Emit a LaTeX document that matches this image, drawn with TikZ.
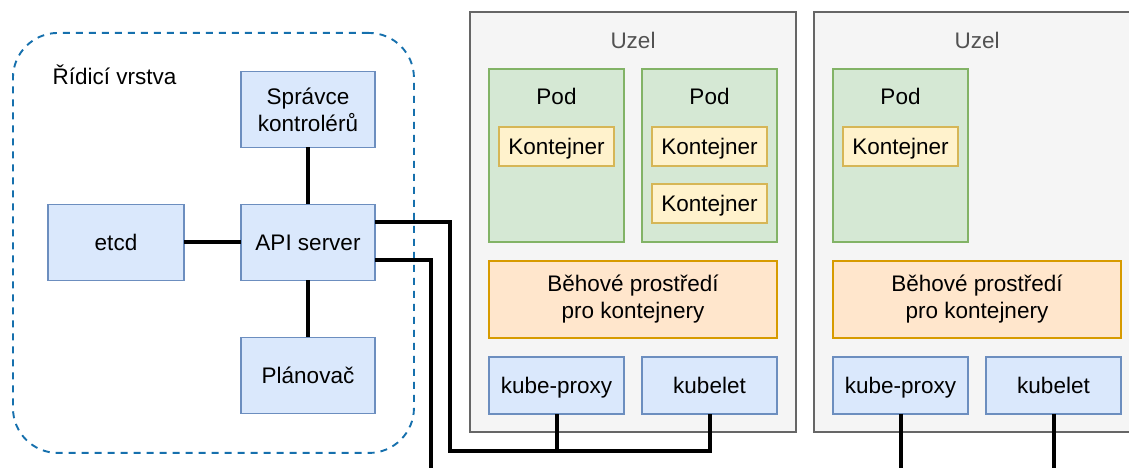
\documentclass[tikz,border=0pt]{standalone}
\usepackage{fontspec}
\setmainfont{Liberation Sans}
\usepackage{tikz}
\usetikzlibrary{positioning}
\usepackage{xcolor}
\definecolor{cpfill}{HTML}{DAE8FC}
\definecolor{cpline}{HTML}{6C8EBF}
\definecolor{podfill}{HTML}{D5E8D4}
\definecolor{podline}{HTML}{82B366}
\definecolor{ctrfill}{HTML}{FFF2CC}
\definecolor{ctrline}{HTML}{D6B656}
\definecolor{rtfill}{HTML}{FFE6CC}
\definecolor{rtline}{HTML}{D79B00}
\definecolor{uzelfill}{HTML}{F5F5F5}
\definecolor{uzelline}{HTML}{666666}
\definecolor{planeline}{HTML}{1670AD}

\begin{document}
\begin{tikzpicture}[
    x=1pt, y=1pt,
    node distance=57pt,
    font=\fontsize{22.5}{27}\selectfont,
    every node/.append style={text height=20pt, text depth=3pt},
    twoline/.style={text height={}, text depth={}},
    box/.style={rectangle, draw=cpline, fill=cpfill, line width=1.9pt, outer sep=0pt, minimum width=134pt, minimum height=76pt, align=center},
    plane/.style={rectangle, draw=planeline, line width=1.9pt, dash pattern=on 7pt off 6pt, rounded corners=45pt, minimum width=401pt, minimum height=420pt},
    uzel/.style={rectangle, draw=uzelline, fill=uzelfill, line width=1.9pt, outer sep=0pt, minimum width=326pt, minimum height=420pt},
    pod/.style={rectangle, draw=podline, fill=podfill, line width=1.9pt, outer sep=0pt, minimum width=135pt, minimum height=173pt},
    ctr/.style={rectangle, draw=ctrline, fill=ctrfill, line width=1.9pt, outer sep=0pt, minimum width=115pt, minimum height=39pt, inner sep=1pt},
    runtime/.style={rectangle, draw=rtline, fill=rtfill, line width=1.9pt, outer sep=0pt, minimum width=288pt, minimum height=77pt, align=center, twoline},
    agent/.style={rectangle, draw=cpline, fill=cpfill, line width=1.9pt, outer sep=0pt, minimum width=135pt, minimum height=57pt},
    link/.style={line width=4pt}
]
\useasboundingbox (0,0) rectangle (1129,468);

% control plane
\node[plane, anchor=north west] (plane) at (12,436) {};
\node[anchor=west] (planet) at (49,392) {Řídicí vrstva};
\node[box] (api) at (308,225.5) {API server};
\node[box, twoline, above=of api] (mgr) {Správce\\kontrolérů};
\node[box, left=of api, minimum width=136pt] (etcd) {etcd};
\node[box, below=of api] (sched) {Plánovač};

% first node
\node[uzel, anchor=north west] (uzel1) at (470,456) {};
\node[text=uzelline!80!black] (uzel1t) at ([yshift=-28pt]uzel1.north) {Uzel};
\node[pod, below right=57pt and 19pt of uzel1.north west, anchor=north west] (pod1) {};
\node[pod, right=18pt of pod1] (pod2) {};
\node (pod1t) at ([yshift=-27pt]pod1.north) {Pod};
\node (pod2t) at ([yshift=-27pt]pod2.north) {Pod};
\node[ctr, below=58pt of pod1.north] (ctr1) {Kontejner};
\node[ctr, below=58pt of pod2.north] (ctr2) {Kontejner};
\node[ctr, below=18pt of ctr2] (ctr3) {Kontejner};
\node[runtime, below=19pt of pod1.south west, anchor=north west] (rt1) {Běhové prostředí\\pro kontejnery};
\node[agent, below=19pt of rt1.south west, anchor=north west] (kp1) {kube-proxy};
\node[agent, right=18pt of kp1] (kl1) {kubelet};

% second node
\node[uzel, anchor=north west] (uzel2) at (814,456) {};
\node[text=uzelline!80!black] (uzel2t) at ([yshift=-28pt]uzel2.north) {Uzel};
\node[pod, below right=57pt and 19pt of uzel2.north west, anchor=north west] (pod3) {};
\node (pod3t) at ([yshift=-27pt]pod3.north) {Pod};
\node[ctr, below=58pt of pod3.north] (ctr4) {Kontejner};
\node[runtime, below=19pt of pod3.south west, anchor=north west] (rt2) {Běhové prostředí\\pro kontejnery};
\node[agent, below=19pt of rt2.south west, anchor=north west] (kp2) {kube-proxy};
\node[agent, right=18pt of kp2] (kl2) {kubelet};

% links
\coordinate (bus1) at (450,17);
\coordinate (end1) at (431,-5);
\coordinate (end2) at (kp2.south |- end1);
\coordinate (end3) at (kl2.south |- end1);
\draw[link] (mgr) -- (api);
\draw[link] (etcd) -- (api);
\draw[link] (api) -- (sched);
\draw[link] ([yshift=20.5pt]api.east) -| (bus1) -| (kp1.south);
\draw[link] (bus1) -| (kl1.south);
\draw[link] ([yshift=-17.5pt]api.east) -| (end1);
\draw[link] (kp2.south) -- (end2);
\draw[link] (kl2.south) -- (end3);
\end{tikzpicture}
\end{document}
